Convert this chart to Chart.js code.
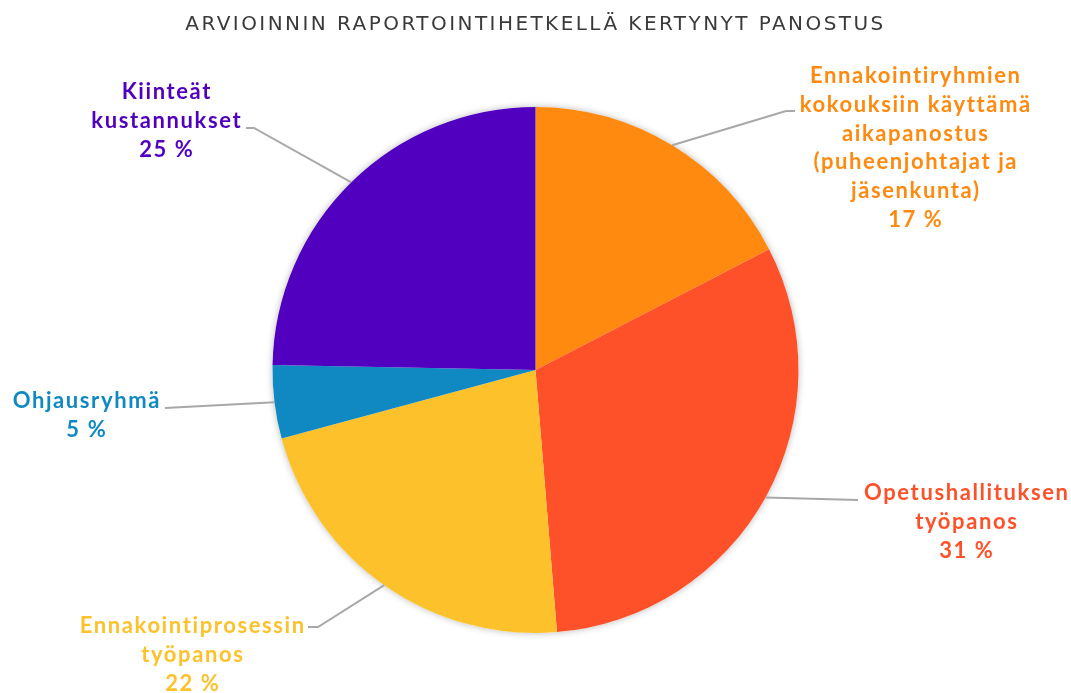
<!DOCTYPE html>
<html lang="fi">
<head>
  <meta charset="UTF-8" />
  <title>Arvioinnin raportointihetkellä kertynyt panostus</title>
  <script src="https://cdn.jsdelivr.net/npm/chart.js"></script>
  <style>
    body { margin: 0; background: #ffffff; }
    .wrap { width: 1071px; height: 693px; position: relative; }
  </style>
</head>
<body>
  <div class="wrap"><canvas id="pieChart"></canvas></div>

  <script>
    // data
    const chartTitle = 'ARVIOINNIN RAPORTOINTIHETKELLÄ KERTYNYT PANOSTUS';
    const categories = [
      ['Ennakointiryhmien', 'kokouksiin käyttämä', 'aikapanostus', '(puheenjohtajat ja', 'jäsenkunta)'],
      ['Opetushallituksen', 'työpanos'],
      ['Ennakointiprosessin', 'työpanos'],
      ['Ohjausryhmä'],
      ['Kiinteät', 'kustannukset']
    ];
    const shares = [17.4, 31.3, 22.1, 4.5, 24.7];
    const sliceColors = ['#FF8A0F', '#FF5129', '#FDC22B', '#1088C2', '#5000BE'];

    // where each label sits (centre x, first baseline) and the bend of its leader line
    const labelAnchors = [
      { x: 915, y: 83,  elbow: [786, 111], end: [795, 111] },
      { x: 966, y: 500, elbow: [858, 500], end: [858, 500] },
      { x: 192, y: 633, elbow: [318, 627], end: [308, 627] },
      { x: 86,  y: 408, elbow: [165, 408], end: [165, 408] },
      { x: 166, y: 99,  elbow: [254, 128], end: [246, 128] }
    ];
    const lineGap = 28.8;
    const titleFont = { family: 'DejaVu Sans', size: 20, weight: 'normal' };
    const titleWidth = 698;

    // the original title face is wider than anything installed, so space it out to the same width
    const titleSpacing = {
      id: 'titleSpacing',
      beforeDraw(chart) {
        const ctx = chart.ctx;
        ctx.save();
        ctx.font = `${titleFont.weight} ${titleFont.size}px "${titleFont.family}"`;
        ctx.letterSpacing = '0px';
        const w = ctx.measureText(chartTitle).width;
        ctx.restore();
        ctx.letterSpacing = Math.max(0, (titleWidth - w) / (chartTitle.length - 1)) + 'px';
      },
      beforeDatasetsDraw(chart) { chart.ctx.letterSpacing = '0px'; }
    };

    const pieShadow = {
      id: 'pieShadow',
      beforeDatasetsDraw(chart) {
        const arc = chart.getDatasetMeta(0).data[0];
        if (!arc) return;
        const { x, y, outerRadius } = arc.getProps(['x', 'y', 'outerRadius'], true);
        const ctx = chart.ctx;
        ctx.save();
        ctx.shadowColor = 'rgba(0,0,0,0.28)';
        ctx.shadowBlur = 7;
        ctx.beginPath();
        ctx.arc(x, y, outerRadius, 0, Math.PI * 2);
        ctx.fillStyle = '#ffffff';
        ctx.fill();
        ctx.restore();
      }
    };

    const outsideLabels = {
      id: 'outsideLabels',
      afterDatasetsDraw(chart) {
        const ctx = chart.ctx;
        const meta = chart.getDatasetMeta(0);
        meta.data.forEach((arc, i) => {
          const p = arc.getProps(['x', 'y', 'startAngle', 'endAngle', 'outerRadius'], true);
          const mid = (p.startAngle + p.endAngle) / 2;
          const sx = p.x + Math.cos(mid) * p.outerRadius;
          const sy = p.y + Math.sin(mid) * p.outerRadius;
          const a = labelAnchors[i];

          ctx.save();
          ctx.strokeStyle = '#A8A8A8';
          ctx.lineWidth = 2;
          ctx.beginPath();
          ctx.moveTo(sx, sy);
          ctx.lineTo(a.elbow[0], a.elbow[1]);
          ctx.lineTo(a.end[0], a.end[1]);
          ctx.stroke();

          ctx.fillStyle = sliceColors[i];
          ctx.font = 'bold 22px Lato';
          ctx.letterSpacing = '1.6px';
          ctx.textAlign = 'center';
          ctx.textBaseline = 'alphabetic';
          const lines = categories[i].concat([Math.round(shares[i]) + ' %']);
          lines.forEach((t, k) => ctx.fillText(t, a.x + 0.8, a.y + k * lineGap));
          ctx.restore();
        });
      }
    };

    new Chart(document.getElementById('pieChart'), {
      type: 'pie',
      data: {
        labels: categories.map(c => c.join(' ')),
        datasets: [{
          data: shares,
          backgroundColor: sliceColors,
          borderWidth: 0,
          hoverOffset: 0
        }]
      },
      options: {
        responsive: true,
        maintainAspectRatio: false,
        animation: false,
        layout: { padding: { left: 0, right: 0, top: 0, bottom: 60 } },
        plugins: {
          legend: { display: false },
          tooltip: { enabled: false },
          title: {
            display: true,
            text: chartTitle,
            color: '#3A3A3A',
            font: titleFont,
            padding: { top: 13, bottom: 70 }
          }
        }
      },
      plugins: [titleSpacing, pieShadow, outsideLabels]
    });
  </script>
</body>
</html>
